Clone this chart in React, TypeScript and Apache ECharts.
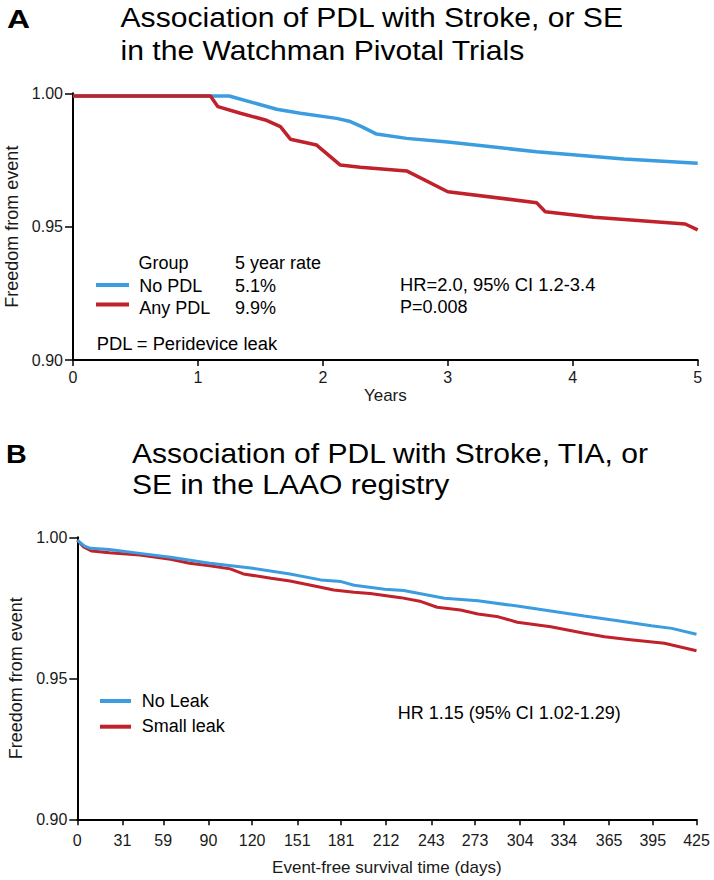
import React, { useEffect, useRef } from "react";
import * as echarts from "echarts";

// ---------- Data ----------
// Panel A (years)
const noPdlX = [0, 1.1, 1.25, 1.44, 1.63, 1.82, 2.11, 2.22, 2.31, 2.43, 2.67, 3.0, 3.71, 4.41, 5.0];
const noPdlY = [0.999, 0.999, 0.999, 0.9965, 0.994, 0.9925, 0.9906, 0.9894, 0.9875, 0.9847, 0.9831, 0.9817, 0.9781, 0.9754, 0.9738];
const anyPdlX = [0, 1.1, 1.16, 1.34, 1.54, 1.66, 1.74, 1.95, 2.14, 2.3, 2.67, 3.0, 3.71, 3.78, 4.17, 4.9, 5.0];
const anyPdlY = [0.999, 0.999, 0.995, 0.9925, 0.99, 0.9875, 0.9828, 0.9806, 0.9731, 0.9723, 0.9709, 0.9631, 0.959, 0.9556, 0.9535, 0.951, 0.9488];

// Panel B (days)
const noLeakX = [0, 5, 9, 22, 43, 64, 91, 119, 146, 167, 181, 190, 211, 224, 252, 275, 302, 325, 348, 371, 394, 408, 425];
const noLeakY = [0.999, 0.9969, 0.9961, 0.9957, 0.9943, 0.9929, 0.9908, 0.9891, 0.987, 0.9849, 0.9843, 0.983, 0.9816, 0.9811, 0.9784, 0.9775, 0.9756, 0.9739, 0.9721, 0.9704, 0.9686, 0.9677, 0.9656];
const smallLeakX = [0, 4, 10, 22, 43, 64, 77, 91, 105, 114, 133, 146, 167, 176, 190, 201, 222, 236, 247, 263, 275, 289, 302, 325, 348, 362, 378, 403, 425];
const smallLeakY = [0.999, 0.9967, 0.9951, 0.9945, 0.9937, 0.9922, 0.9908, 0.9899, 0.9888, 0.987, 0.9855, 0.9845, 0.9823, 0.9813, 0.9805, 0.9801, 0.9786, 0.9772, 0.9752, 0.9742, 0.9728, 0.9718, 0.9699, 0.9683, 0.966, 0.9647, 0.9638, 0.9624, 0.9598];

const dayTicks = [0, 31, 59, 90, 120, 151, 181, 212, 243, 273, 304, 334, 365, 395, 425];

// ---------- Texts ----------
const titleA = ["Association of PDL with Stroke, or SE", "in the Watchman Pivotal Trials"];
const titleB = ["Association of PDL with Stroke, TIA, or", "SE in the LAAO registry"];
const legendA = { header: ["Group", "5 year rate"], rows: [["No PDL", "5.1%"], ["Any PDL", "9.9%"]] };
const noteA = "PDL = Peridevice leak";
const statsA = ["HR=2.0, 95% CI 1.2-3.4", "P=0.008"];
const legendB = ["No Leak", "Small leak"];
const statsB = "HR 1.15 (95% CI 1.02-1.29)";
const yName = "Freedom from event";
const xNameA = "Years";
const xNameB = "Event-free survival time (days)";

const BLUE = "#3b9de0";
const RED = "#c0212b";
const FONT = "'Liberation Sans', Arial, Helvetica, sans-serif";
const INK = "#1a1a1a";

const zip = (xs: number[], ys: number[]) => xs.map((x, i) => [x, ys[i]]);

function txt(text: string, x: number, y: number, size: number, weight = "normal", scaleX = 1) {
  return {
    type: "text",
    x,
    y,
    scaleX,
    silent: true,
    style: {
      text,
      fontSize: size,
      fontWeight: weight,
      fontFamily: FONT,
      fill: "#000",
      align: "left",
      verticalAlign: "middle",
    },
  };
}

function seg(x1: number, x2: number, y: number, color: string) {
  return {
    type: "line",
    silent: true,
    shape: { x1, y1: y, x2, y2: y },
    style: { stroke: color, lineWidth: 4 },
  };
}

export default function App() {
  const ref = useRef<HTMLDivElement>(null);

  useEffect(() => {
    if (!ref.current) return;
    const chart = echarts.init(ref.current, undefined, { renderer: "svg" });

    const axisLine = { show: true, lineStyle: { color: "#000", width: 2 } };
    const yAxisBase = (gridIndex: number) => ({
      type: "value",
      gridIndex,
      min: 0.9,
      max: 1.0,
      interval: 0.05,
      name: yName,
      nameLocation: "middle",
      nameGap: 50,
      nameRotate: 90,
      nameTextStyle: { fontSize: 18, fontFamily: FONT, color: INK },
      axisLine,
      axisTick: { show: true, length: 8, lineStyle: { color: "#000", width: 1.5 } },
      axisLabel: {
        margin: 10,
        fontSize: 16,
        fontFamily: FONT,
        color: INK,
        formatter: (v: number) => v.toFixed(2),
      },
      splitLine: { show: false },
    });

    const option = {
      animation: false,
      backgroundColor: "#fff",
      grid: [
        { left: 73, top: 93.3, width: 624.7, height: 266.7, outerBoundsMode: "none", containLabel: false },
        { left: 77.3, top: 537.3, width: 619.2, height: 282, outerBoundsMode: "none", containLabel: false },
      ],
      xAxis: [
        {
          type: "value",
          gridIndex: 0,
          min: 0,
          max: 5,
          interval: 1,
          name: xNameA,
          nameLocation: "middle",
          nameGap: 27,
          nameTextStyle: { fontSize: 17, fontFamily: FONT, color: INK },
          axisLine,
          axisTick: { show: true, length: 6, lineStyle: { color: "#000", width: 1.5 } },
          axisLabel: { margin: 9, fontSize: 16, fontFamily: FONT, color: INK },
          splitLine: { show: false },
        },
        {
          type: "value",
          gridIndex: 1,
          min: 0,
          max: 425,
          name: xNameB,
          nameLocation: "middle",
          nameGap: 40,
          nameTextStyle: { fontSize: 17, fontFamily: FONT, color: INK },
          axisLine,
          axisTick: { show: true, length: 6, customValues: dayTicks, lineStyle: { color: "#000", width: 1.5 } },
          axisLabel: { margin: 13, fontSize: 16, fontFamily: FONT, color: INK, customValues: dayTicks },
          splitLine: { show: false },
        },
      ],
      yAxis: [yAxisBase(0), yAxisBase(1)],
      series: [
        {
          type: "line",
          name: legendA.rows[0][0],
          xAxisIndex: 0,
          yAxisIndex: 0,
          data: zip(noPdlX, noPdlY),
          showSymbol: false,
          symbol: "none",
          lineStyle: { color: BLUE, width: 3.5 },
          itemStyle: { color: BLUE },
          z: 3,
        },
        {
          type: "line",
          name: legendA.rows[1][0],
          xAxisIndex: 0,
          yAxisIndex: 0,
          data: zip(anyPdlX, anyPdlY),
          showSymbol: false,
          symbol: "none",
          lineStyle: { color: RED, width: 3.5 },
          itemStyle: { color: RED },
          z: 4,
        },
        {
          type: "line",
          name: legendB[0],
          xAxisIndex: 1,
          yAxisIndex: 1,
          data: zip(noLeakX, noLeakY),
          showSymbol: false,
          symbol: "none",
          lineStyle: { color: BLUE, width: 3 },
          itemStyle: { color: BLUE },
          z: 4,
        },
        {
          type: "line",
          name: legendB[1],
          xAxisIndex: 1,
          yAxisIndex: 1,
          data: zip(smallLeakX, smallLeakY),
          showSymbol: false,
          symbol: "none",
          lineStyle: { color: RED, width: 3 },
          itemStyle: { color: RED },
          z: 3,
        },
      ],
      graphic: [
        txt("A", 7, 19.3, 25.5, "bold", 1.25),
        txt(titleA[0], 120.5, 17.8, 27.5, "normal", 1.095),
        txt(titleA[1], 120.5, 50, 27.5, "normal", 1.095),
        txt("B", 6, 454.3, 25, "bold", 1.15),
        txt(titleB[0], 132, 453.2, 27.5, "normal", 1.093),
        txt(titleB[1], 132, 484.8, 27.5, "normal", 1.093),
        // Legend A
        txt(legendA.header[0], 138.5, 263.3, 18),
        txt(legendA.header[1], 235, 263.3, 18),
        seg(96, 129, 285, BLUE),
        seg(96, 129, 304.5, RED),
        txt(legendA.rows[0][0], 139.3, 286, 18),
        txt(legendA.rows[0][1], 235, 286, 18),
        txt(legendA.rows[1][0], 139.3, 308.4, 18),
        txt(legendA.rows[1][1], 235, 308.4, 18),
        txt(noteA, 96.7, 344.4, 18, "normal", 1.02),
        txt(statsA[0], 400, 285, 18, "normal", 1.02),
        txt(statsA[1], 400, 306.7, 18),
        // Legend B
        seg(100, 131, 701, BLUE),
        seg(100, 131, 726.7, RED),
        txt(legendB[0], 141.7, 700.7, 18),
        txt(legendB[1], 141.7, 726, 18),
        txt(statsB, 397.7, 713.4, 18),
      ],
    };

    chart.setOption(option as any);
    return () => chart.dispose();
  }, []);

  return (
    <div
      ref={ref}
      style={{ position: "absolute", left: 0, top: 0, width: 714, height: 880, background: "#fff" }}
    />
  );
}
